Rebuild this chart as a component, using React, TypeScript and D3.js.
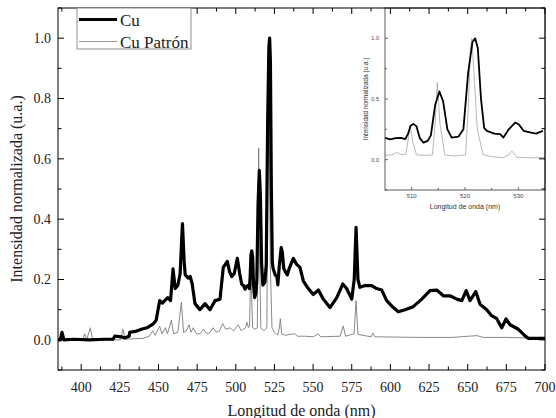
import React from "react";
import * as d3 from "d3";

// Cu emission spectrum: [wavelength nm, normalized intensity]
const cuSpectrum: [number, number][] = [
  [385, 0.0], [386.5, 0.0], [387.6, 0.025], [388.8, 0.0], [395, 0.002], [405, 0.0], [415, 0.002],
  [420.6, 0.002], [421.7, 0.012], [426, 0.01], [428, 0.006], [431, 0.012], [431.4, 0.025], [435, 0.028],
  [438.9, 0.035], [442.5, 0.04], [446.4, 0.052], [448.5, 0.065], [449.7, 0.1], [450.8, 0.13],
  [452.5, 0.122], [454, 0.13], [456, 0.14], [457.8, 0.13], [459.4, 0.235], [460.8, 0.17], [462.5, 0.18],
  [464, 0.22], [465.5, 0.385], [466.6, 0.26], [467.3, 0.215], [469.3, 0.205], [470.5, 0.21],
  [471.8, 0.185], [473.6, 0.12], [476.8, 0.1], [480.1, 0.12], [483.3, 0.1], [486.6, 0.13],
  [489.8, 0.135], [491.9, 0.24], [494.5, 0.26], [496, 0.225], [497.4, 0.21], [499, 0.22], [501, 0.27],
  [502.5, 0.22], [503.8, 0.185],
  [505, 0.18], [506, 0.168], [507, 0.178], [508, 0.18], [508.8, 0.17], [509.3, 0.21], [509.8, 0.28],
  [510.3, 0.295], [510.9, 0.275], [511.5, 0.18], [512.2, 0.14], [513, 0.155], [513.6, 0.2],
  [514.4, 0.45], [515.2, 0.562], [515.9, 0.48], [516.7, 0.25], [517.5, 0.182], [518.8, 0.19],
  [519.7, 0.25], [520.6, 0.72], [521.4, 0.97], [521.9, 1.0], [522.4, 0.92], [523, 0.5], [523.6, 0.26],
  [524.1, 0.237], [525.5, 0.215], [526.6, 0.21], [527.2, 0.182], [528.2, 0.25], [529.4, 0.306],
  [530.1, 0.29], [531, 0.237], [532.2, 0.224], [533.3, 0.215], [534.6, 0.237],
  [537.2, 0.27], [539.4, 0.25], [541.5, 0.24], [543.7, 0.195], [546.9, 0.17], [550.1, 0.15],
  [553.4, 0.165], [556.6, 0.135], [560.9, 0.107], [565.3, 0.14], [569.2, 0.185], [571.7, 0.17],
  [575, 0.135], [576.6, 0.2], [577.8, 0.373], [579, 0.2], [580.3, 0.174], [583.6, 0.18], [587.9, 0.18],
  [591.1, 0.17], [594.4, 0.165], [597.6, 0.13], [601.9, 0.107], [605.1, 0.093], [609.5, 0.1],
  [614.8, 0.11], [620.3, 0.135], [625.6, 0.163], [630, 0.165], [634.2, 0.146], [638.6, 0.146],
  [642.9, 0.135], [646.2, 0.13], [649, 0.163], [651.5, 0.13], [655.2, 0.16], [658, 0.118],
  [662.3, 0.1], [665.5, 0.08], [668.8, 0.07], [672, 0.04], [674.8, 0.069], [677.4, 0.05],
  [682.8, 0.035], [687.1, 0.013], [689.3, 0.005], [700, 0.005],
];

// reference (patrón) spectrum
const patronSpectrum: [number, number][] = [
  [385, 0.0], [401, 0.0], [402.3, 0.02], [403.5, 0.0], [405.9, 0.04], [407.5, 0.0], [425.5, 0.0],
  [427, 0.035], [428.5, 0.002], [440, 0.005], [444, 0.012], [446.3, 0.03], [447.8, 0.015],
  [450.8, 0.045], [452.2, 0.02], [454.5, 0.04], [455.8, 0.02], [458.3, 0.065], [459.8, 0.02],
  [462.5, 0.025], [464.8, 0.125], [466.2, 0.025], [468, 0.03], [469.8, 0.05], [471, 0.025],
  [472.5, 0.04], [474.5, 0.02], [477, 0.02], [479, 0.035], [481, 0.022], [483, 0.022], [485.4, 0.04],
  [487.5, 0.025], [489.5, 0.03], [491.5, 0.054], [493.5, 0.035], [496.3, 0.04], [498.5, 0.03],
  [501.6, 0.05], [503.5, 0.03], [505, 0.036], [506.3, 0.04], [507.2, 0.058], [508.2, 0.04],
  [508.9, 0.045], [509.3, 0.15], [509.7, 0.28], [510.2, 0.15], [510.9, 0.04], [512.5, 0.035],
  [513.9, 0.04], [514.4, 0.3], [514.8, 0.636], [515.3, 0.3], [516.2, 0.04], [518, 0.03],
  [520.1, 0.04], [520.6, 0.4], [521, 0.9], [521.3, 1.0], [521.7, 0.7], [522.3, 0.25], [523.4, 0.04],
  [525, 0.025], [527.1, 0.016], [528.2, 0.04], [528.8, 0.07], [529.7, 0.02], [532, 0.015],
  [535, 0.018], [538, 0.02], [540, 0.012], [545, 0.012], [550, 0.01], [553.2, 0.02], [555, 0.01],
  [567.5, 0.012], [569.5, 0.046], [571, 0.012], [576.5, 0.02], [577.8, 0.13], [579, 0.018],
  [587.5, 0.01], [588.6, 0.022], [590, 0.01], [620, 0.008], [640, 0.008], [656, 0.014], [660, 0.008],
  [675, 0.008], [700, 0.005],
];

const xTickLabels = [400, 425, 450, 475, 500, 525, 550, 575, 600, 625, 650, 675, 700];
const yTickLabels = [0.0, 0.2, 0.4, 0.6, 0.8, 1.0];
const insetXTickLabels = [510, 520, 530];
const insetYTickLabels = [0.0, 0.5, 1.0];
const seriesNames = ["Cu", "Cu Patrón"];

const W = 556;
const H = 418;
const frame = { left: 58, right: 545, top: 8, bottom: 370 };
const inset = { left: 385, right: 545, top: 8, bottom: 190 };

const serif = "'Liberation Serif', 'Times New Roman', serif";
const sans = "'Liberation Sans', Arial, sans-serif";

export default function App() {
  const x = d3.scaleLinear().domain([385, 700]).range([frame.left, frame.right]);
  const y = d3.scaleLinear().domain([-0.1, 1.1]).range([frame.bottom, frame.top]);

  const ix = d3.scaleLinear().domain([505, 535]).range([inset.left, inset.right]);
  const iy = d3.scaleLinear().domain([-0.25, 1.25]).range([inset.bottom, inset.top]);

  const line = d3.line<[number, number]>().x(d => x(d[0])).y(d => y(d[1]));
  const insetLine = d3.line<[number, number]>().x(d => ix(d[0])).y(d => iy(d[1]));

  const xMinor = d3.range(387.5, 701, 25);
  const yMinor = d3.range(-0.1, 1.11, 0.2).map(v => +v.toFixed(2));
  const ixMinor = [515, 525];
  const iyMinor = [-0.25, 0.25, 0.75];

  const insetCu = cuSpectrum.filter(d => d[0] >= 503 && d[0] <= 537);
  const insetPatron = patronSpectrum.filter(d => d[0] >= 503 && d[0] <= 537);

  return (
    <svg width={W} height={H} style={{ position: "absolute", left: 0, top: 0, background: "#fff" }}>
      <defs>
        <clipPath id="mainClip">
          <rect x={frame.left} y={frame.top} width={frame.right - frame.left} height={frame.bottom - frame.top} />
        </clipPath>
        <clipPath id="insetClip">
          <rect x={inset.left} y={inset.top} width={inset.right - inset.left} height={inset.bottom - inset.top} />
        </clipPath>
      </defs>

      {/* main spectra */}
      <g clipPath="url(#mainClip)">
        <path d={line(patronSpectrum) || ""} fill="none" stroke="#7a7a7a" strokeWidth={0.9} />
        <path d={line(cuSpectrum) || ""} fill="none" stroke="#000" strokeWidth={3.2} strokeLinejoin="round" />
      </g>

      {/* inset */}
      <g>
        <g clipPath="url(#insetClip)">
          <path d={insetLine(insetPatron) || ""} fill="none" stroke="#9a9a9a" strokeWidth={0.7} />
          <path d={insetLine(insetCu) || ""} fill="none" stroke="#000" strokeWidth={1.8} strokeLinejoin="round" />
        </g>
        <rect x={inset.left} y={inset.top} width={inset.right - inset.left} height={inset.bottom - inset.top}
          fill="none" stroke="#333" strokeWidth={0.8} />
        {insetXTickLabels.map(t => (
          <g key={"ixt" + t}>
            <line x1={ix(t)} x2={ix(t)} y1={inset.bottom} y2={inset.bottom - 3} stroke="#333" strokeWidth={0.7} />
            <text x={ix(t)} y={198} fontFamily={sans} fontSize={6} textAnchor="middle" fill="#444">{t}</text>
          </g>
        ))}
        {ixMinor.map(t => (
          <line key={"ixm" + t} x1={ix(t)} x2={ix(t)} y1={inset.bottom} y2={inset.bottom - 2} stroke="#333" strokeWidth={0.7} />
        ))}
        {insetYTickLabels.map(t => (
          <g key={"iyt" + t}>
            <line x1={inset.left} x2={inset.left + 3} y1={iy(t)} y2={iy(t)} stroke="#333" strokeWidth={0.7} />
            <text x={379} y={iy(t)} dy="0.35em" fontFamily={sans} fontSize={5.5} textAnchor="end" fill="#444">{t.toFixed(1)}</text>
          </g>
        ))}
        {iyMinor.map(t => (
          <line key={"iym" + t} x1={inset.left} x2={inset.left + 2} y1={iy(t)} y2={iy(t)} stroke="#333" strokeWidth={0.7} />
        ))}
        <text x={(inset.left + inset.right) / 2} y={209} fontFamily={sans} fontSize={7} textAnchor="middle" fill="#333">
          Longitud de onda (nm)
        </text>
        <text transform={`translate(368, ${(inset.top + inset.bottom) / 2}) rotate(-90)`} fontFamily={sans}
          fontSize={6.4} textAnchor="middle" fill="#333">
          Intensidad normalizada (u.a.)
        </text>
      </g>

      {/* main frame and ticks */}
      <rect x={frame.left} y={frame.top} width={frame.right - frame.left} height={frame.bottom - frame.top}
        fill="none" stroke="#000" strokeWidth={1} />
      {xTickLabels.map(t => (
        <g key={"xt" + t}>
          <line x1={x(t)} x2={x(t)} y1={frame.bottom} y2={frame.bottom - 6} stroke="#000" />
          <line x1={x(t)} x2={x(t)} y1={frame.top} y2={frame.top + 6} stroke="#000" />
          <text x={x(t)} y={392} fontFamily={serif} fontSize={14} textAnchor="middle" fill="#222">{t}</text>
        </g>
      ))}
      {xMinor.map(t => (
        <g key={"xm" + t}>
          <line x1={x(t)} x2={x(t)} y1={frame.bottom} y2={frame.bottom - 3.5} stroke="#000" />
          <line x1={x(t)} x2={x(t)} y1={frame.top} y2={frame.top + 3.5} stroke="#000" />
        </g>
      ))}
      {yTickLabels.map(t => (
        <g key={"yt" + t}>
          <line x1={frame.left} x2={frame.left + 6} y1={y(t)} y2={y(t)} stroke="#000" />
          <line x1={frame.right} x2={frame.right - 6} y1={y(t)} y2={y(t)} stroke="#000" />
          <text x={51} y={y(t)} dy="0.35em" fontFamily={serif} fontSize={14} textAnchor="end" fill="#222">{t.toFixed(1)}</text>
        </g>
      ))}
      {yMinor.map(t => (
        <g key={"ym" + t}>
          <line x1={frame.left} x2={frame.left + 3.5} y1={y(t)} y2={y(t)} stroke="#000" />
          <line x1={frame.right} x2={frame.right - 3.5} y1={y(t)} y2={y(t)} stroke="#000" />
        </g>
      ))}

      <text x={(frame.left + frame.right) / 2} y={416} fontFamily={serif} fontSize={16} textAnchor="middle" fill="#222">
        Longitud de onda (nm)
      </text>
      <text transform={`translate(22, ${(frame.top + frame.bottom) / 2}) rotate(-90)`} fontFamily={serif}
        fontSize={16} textAnchor="middle" fill="#222">
        Intensidad normalizada (u.a.)
      </text>

      {/* legend */}
      <g>
        <rect x={77} y={8} width={114} height={41} fill="#fff" stroke="#777" strokeWidth={0.8} />
        <line x1={79} x2={117} y1={19.5} y2={19.5} stroke="#000" strokeWidth={3} />
        <text x={120} y={25.5} fontFamily={serif} fontSize={17} fill="#222">{seriesNames[0]}</text>
        <line x1={79} x2={117} y1={41.5} y2={41.5} stroke="#8a8a8a" strokeWidth={0.9} />
        <text x={120} y={47.5} fontFamily={serif} fontSize={17} fill="#222">{seriesNames[1]}</text>
      </g>
    </svg>
  );
}
